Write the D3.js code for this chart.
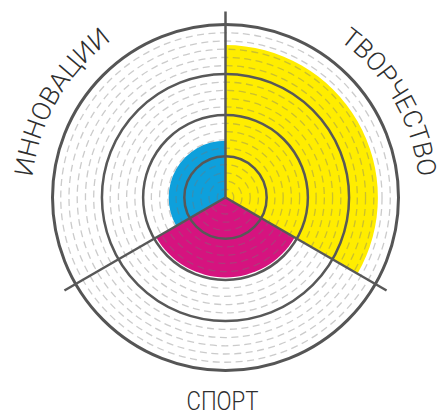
<!DOCTYPE html>
<html>
<head>
<meta charset="utf-8">
<script src="https://cdn.jsdelivr.net/npm/d3@7"></script>
<style>
  body { margin: 0; background: #fff; }
  text { font-family: Roboto, "Open Sans", sans-serif; font-weight: 300; fill: #2e2e2e; }
</style>
</head>
<body>
<div id="chart"></div>
<script>
// sectors go clockwise from 12 o'clock
var categories = ["ТВОРЧЕСТВО", "СПОРТ", "ИННОВАЦИИ"];
var values = [18.5, 9.7, 6.9];
var colors = ["#ffed00", "#d6137f", "#0ea0dc"];
var majorLevels = [5, 10, 15];
var maxLevel = 21;

var width = 440, height = 414;
var cx = 225.5, cy = 197.5;

var svg = d3.select("#chart")
    .append("svg")
    .attr("width", width)
    .attr("height", height);

var g = svg.append("g")
    .attr("transform", "translate(" + cx + "," + cy + ")");

var r = d3.scaleLinear().domain([0, maxLevel]).range([0, 173]);
var angle = d3.scaleBand().domain(categories).range([0, 2 * Math.PI]);

var arc = d3.arc()
    .innerRadius(0)
    .outerRadius(function(d) { return r(d.value); })
    .startAngle(function(d) { return angle(d.name); })
    .endAngle(function(d) { return angle(d.name) + angle.bandwidth(); });

var rows = categories.map(function(c, i) {
    return {name: c, value: values[i], color: colors[i]};
});

g.selectAll("path.sector")
    .data(rows)
    .enter()
    .append("path")
    .attr("class", "sector")
    .attr("d", arc)
    .attr("fill", function(d) { return d.color; });

// thin dashed rings between the main ones
var minorLevels = d3.range(1, maxLevel).filter(function(l) { return majorLevels.indexOf(l) < 0; });
g.selectAll("circle.minor")
    .data(minorLevels)
    .enter()
    .append("circle")
    .attr("class", "minor")
    .attr("r", function(d) { return r(d); })
    .attr("fill", "none")
    .attr("stroke", "#777")
    .attr("stroke-opacity", 0.38)
    .attr("stroke-width", 1.3)
    .attr("stroke-dasharray", "7,4.5");

g.selectAll("circle.major")
    .data(majorLevels)
    .enter()
    .append("circle")
    .attr("class", "major")
    .attr("r", function(d) { return r(d); })
    .attr("fill", "none")
    .attr("stroke", "#585858")
    .attr("stroke-width", 2.5);

g.append("circle")
    .attr("r", r(maxLevel))
    .attr("fill", "none")
    .attr("stroke", "#555")
    .attr("stroke-width", 3);

// spokes at sector borders
var spokeLen = r(maxLevel) + 13;
g.selectAll("line.spoke")
    .data(categories)
    .enter()
    .append("line")
    .attr("class", "spoke")
    .attr("x1", 0)
    .attr("y1", 0)
    .attr("x2", function(d) { return spokeLen * Math.sin(angle(d)); })
    .attr("y2", function(d) { return -spokeLen * Math.cos(angle(d)); })
    .attr("stroke", "#585858")
    .attr("stroke-width", 2.5);

// labels: curved ones on the sides, straight one at the bottom
var labelR = r(maxLevel) + 21;
var span = 48 * Math.PI / 180;
[0, 2].forEach(function(i) {
    var mid = angle(categories[i]) + angle.bandwidth() / 2;
    var p = d3.path();
    p.arc(0, 0, labelR, mid - span / 2 - Math.PI / 2 - 0.3, mid + span / 2 - Math.PI / 2 + 0.3);
    g.append("path")
        .attr("id", "lab" + i)
        .attr("d", p.toString())
        .attr("fill", "none");
    g.append("text")
        .attr("font-size", 26)
        .attr("textLength", labelR * span)
        .attr("lengthAdjust", "spacingAndGlyphs")
        .append("textPath")
        .attr("href", "#lab" + i)
        .attr("startOffset", "50%")
        .attr("text-anchor", "middle")
        .attr("textLength", labelR * span)
        .attr("lengthAdjust", "spacingAndGlyphs")
        .text(categories[i]);
});

g.append("text")
    .attr("x", -3)
    .attr("y", 212)
    .attr("font-size", 26)
    .attr("text-anchor", "middle")
    .attr("textLength", 72)
    .attr("lengthAdjust", "spacingAndGlyphs")
    .text(categories[1]);
</script>
</body>
</html>
